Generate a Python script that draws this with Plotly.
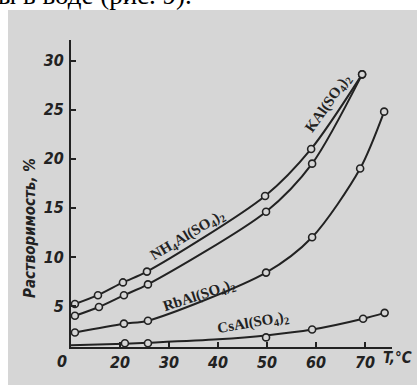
import plotly.graph_objects as go

# data
t_nh4 = [10.8, 15.5, 20.6, 25.5, 49.6, 59.0, 69.4]
s_nh4 = [5.2, 6.1, 7.4, 8.5, 16.2, 21.0, 28.6]
t_k = [10.8, 15.7, 20.8, 25.7, 49.8, 59.2, 69.4]
s_k = [4.0, 4.9, 6.1, 7.2, 14.6, 19.5, 28.6]
t_rb = [10.8, 20.8, 25.7, 49.8, 59.2, 69.0, 73.9]
s_rb = [2.3, 3.2, 3.5, 8.4, 12.0, 19.0, 24.8]
t_cs = [21.0, 25.7, 49.8, 59.2, 69.6, 74.0]
s_cs = [1.2, 1.2, 1.8, 2.6, 3.7, 4.3]
cs_line_t = [10.0, 21.0, 25.7, 40.0, 49.8, 59.2, 69.6, 74.0]
cs_line_s = [1.0, 1.15, 1.25, 1.6, 2.0, 2.6, 3.7, 4.3]
x_ticks = [20, 30, 40, 50, 60, 70]
y_ticks = [5, 10, 15, 20, 25, 30]

BG = "#d6d6d6"
INK = "#222222"
W, H = 417, 385
L, R, T, B = 71, 25, 40, 38
pw, ph = W - L - R, H - T - B

def px(x):
    return (x - L) / pw

def py(y):
    return (H - B - y) / ph

fig = go.Figure()
for tt, ss in [(t_nh4, s_nh4), (t_k, s_k), (t_rb, s_rb)]:
    fig.add_trace(go.Scatter(x=tt, y=ss, mode="lines+markers", line=dict(color=INK, width=2, shape="spline", smoothing=0.8),
                             marker=dict(symbol="circle", size=7, color=BG, line=dict(color=INK, width=1.6)),
                             showlegend=False, cliponaxis=False))
fig.add_trace(go.Scatter(x=cs_line_t, y=cs_line_s, mode="lines", line=dict(color=INK, width=2, shape="spline", smoothing=0.8),
                         showlegend=False, cliponaxis=False))
fig.add_trace(go.Scatter(x=t_cs, y=s_cs, mode="markers",
                         marker=dict(symbol="circle", size=7, color=BG, line=dict(color=INK, width=1.6)),
                         showlegend=False, cliponaxis=False))

tickfont = dict(family="DejaVu Sans Condensed, Liberation Sans Narrow, sans-serif", size=16, color=INK)
fig.update_xaxes(range=[10, 75.5], tickvals=x_ticks, ticktext=[f"<b><i>{v}</i></b>" for v in x_ticks],
                 ticks="inside", ticklen=5, tickwidth=2, tickcolor=INK, showline=True, linecolor=INK, linewidth=2,
                 showgrid=False, zeroline=False, tickfont=tickfont)
fig.update_yaxes(range=[0.82, 32.1], tickvals=y_ticks, ticktext=[f"<b><i>{v}</i></b>" for v in y_ticks],
                 ticks="inside", ticklen=5, tickwidth=2, tickcolor=INK, showline=True, linecolor=INK, linewidth=2,
                 showgrid=False, zeroline=False, tickfont=tickfont, ticklabelstandoff=2)

ann_font = dict(family="DejaVu Sans Condensed, Liberation Sans Narrow, sans-serif", size=16, color=INK)
lab_font = dict(family="Liberation Serif, DejaVu Serif, serif", size=15, color=INK)
anns = [
    dict(x=px(62), y=py(361), text="<b><i>0</i></b>", font=ann_font),
    dict(x=px(414), y=py(358), text="<b><i>T,°C</i></b>", font=dict(family=ann_font["family"], size=15, color=INK), xanchor="right"),
    dict(x=px(30), y=py(228), text="<b><i>Растворимость, %</i></b>", font=dict(family=ann_font["family"], size=15, color=INK), textangle=-90),
    dict(x=px(187), y=py(236), text="<b>NH<sub>4</sub>Al(SO<sub>4</sub>)<sub>2</sub></b>", font=lab_font, textangle=-31),
    dict(x=px(328), y=py(104), text="<b>KAl(SO<sub>4</sub>)<sub>2</sub></b>", font=lab_font, textangle=-55),
    dict(x=px(199), y=py(296), text="<b>RbAl(SO<sub>4</sub>)<sub>2</sub></b>", font=lab_font, textangle=-18),
    dict(x=px(253), y=py(323), text="<b>CsAl(SO<sub>4</sub>)<sub>2</sub></b>", font=lab_font, textangle=-10),
]
for a in anns:
    a.setdefault("xanchor", "center")
    a.update(xref="paper", yref="paper", showarrow=False, yanchor="middle")
    fig.add_annotation(**a)

# top strip of page text (cut by the page edge, as in the scan)
fig.add_annotation(xref="paper", yref="paper", x=px(-4), y=py(-5), text="ы в воде (рис. 9).", showarrow=False,
                   xanchor="left", yanchor="middle", font=dict(family="Liberation Serif, serif", size=27, color="black"))

fig.add_shape(type="rect", xref="paper", yref="paper", x0=px(8), x1=px(W + 5), y0=py(10), y1=py(H + 5),
              fillcolor=BG, line=dict(width=0), layer="below")

fig.update_layout(width=W, height=H, margin=dict(l=L, r=R, t=T, b=B), paper_bgcolor="white",
                  plot_bgcolor="rgba(0,0,0,0)")
fig.write_html("out.html", config={"displayModeBar": False},
               post_script="document.body.style.margin='0';document.body.style.overflow='hidden';")
